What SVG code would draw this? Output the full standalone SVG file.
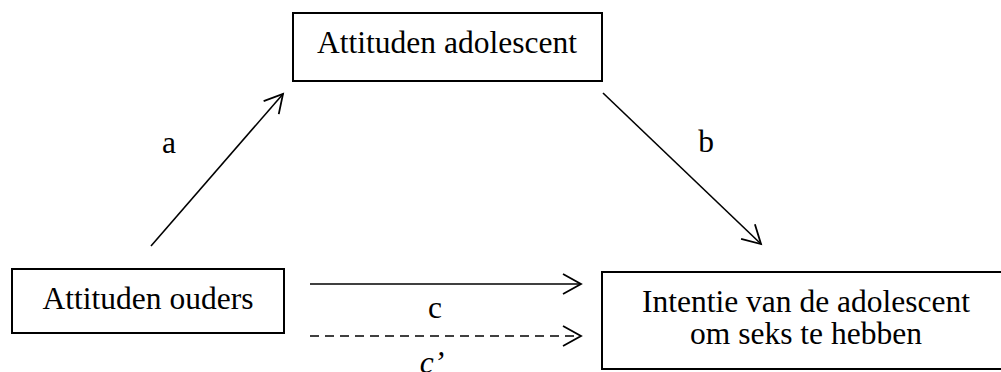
<svg xmlns="http://www.w3.org/2000/svg" width="1001" height="372" viewBox="0 0 1001 372">
<style>
.box{fill:#fff;stroke:#000;stroke-width:2}
.t{font-family:"Liberation Serif","Times New Roman",serif;font-size:31.5px;fill:#000;text-anchor:middle}
.c{fill:none;stroke:#000;stroke-width:1.6}
.d{stroke-dasharray:9 6}
</style>
<defs>
<marker id="ah" markerUnits="userSpaceOnUse" markerWidth="30" markerHeight="30" viewBox="-20 -15 24 30" refX="0" refY="0" orient="auto">
<path d="M-18,-10 L0,0 L-18,10" fill="none" stroke="#000" stroke-width="1.8"/>
</marker>
</defs>
<rect width="1001" height="372" fill="#fff"/>
<g id="n1"><rect class="box" x="293" y="13" width="309" height="68"/><text class="t" x="447" y="53">Attituden adolescent</text></g>
<g id="n2"><rect class="box" x="12" y="269" width="272" height="64"/><text class="t" x="148" y="309">Attituden ouders</text></g>
<g id="n3"><rect class="box" x="602" y="272" width="410" height="97"/><text class="t" x="806" y="312">Intentie van de adolescent</text><text class="t" x="806" y="344">om seks te hebben</text></g>
<g id="connectors">
<line class="c" x1="151" y1="246" x2="283" y2="94" marker-end="url(#ah)"/>
<line class="c" x1="603" y1="93" x2="761" y2="244" marker-end="url(#ah)"/>
<line class="c" x1="310" y1="284" x2="581" y2="284" marker-end="url(#ah)"/>
<line class="c d" x1="310" y1="336" x2="581" y2="336" marker-end="url(#ah)"/>
<text class="t" x="169" y="153">a</text>
<text class="t" x="706" y="152">b</text>
<text class="t" x="435" y="318">c</text>
<text class="t" x="432" y="373" font-style="italic">c’</text>
</g>
</svg>
